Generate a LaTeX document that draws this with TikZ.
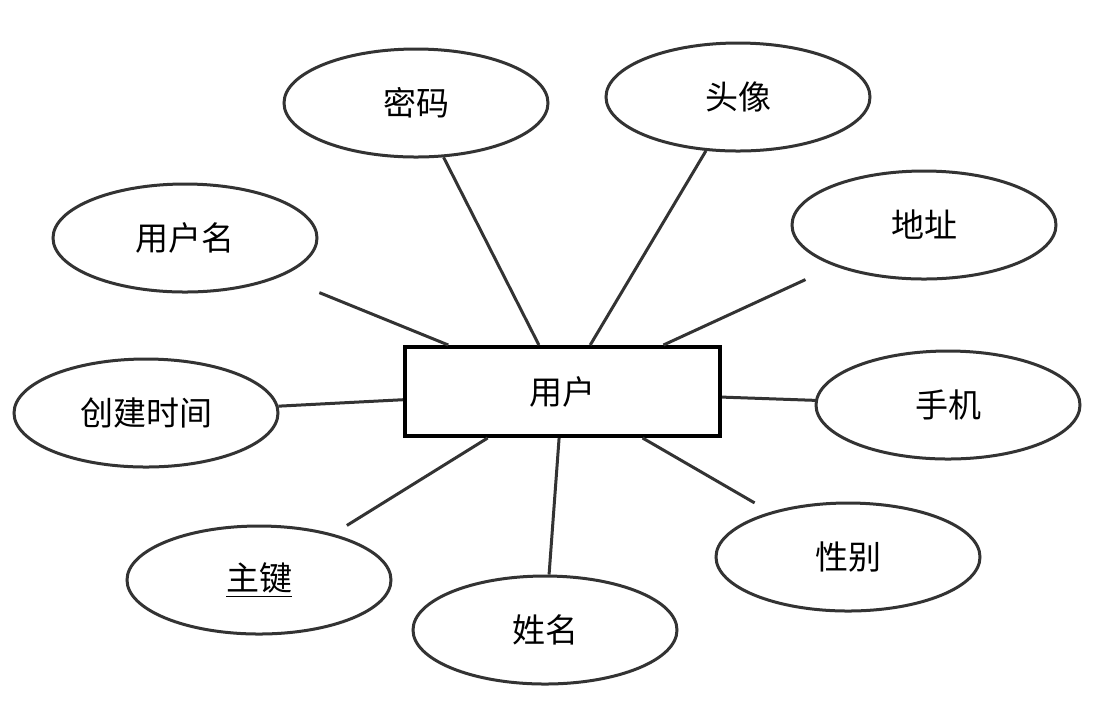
\documentclass[tikz,border=0pt]{standalone}
\usepackage{fontspec}
\setmainfont{Noto Sans CJK SC}
\usepackage{tikz}
\usetikzlibrary{shapes.geometric}

\definecolor{linegray}{HTML}{333333}
\tikzset{
  attr/.style={ellipse,draw=linegray,line width=1.5pt,minimum width=132pt,minimum height=54pt,inner sep=0pt},
  entity/.style={rectangle,draw=black,line width=2pt,minimum width=157.5pt,minimum height=44.5pt,inner sep=0pt},
  link/.style={draw=linegray,line width=1.5pt}
}

\begin{document}
\begin{tikzpicture}[x=0.5pt,y=-0.5pt,font=\fontsize{16.5}{20}\selectfont]
      \useasboundingbox (0,0) rectangle (1097,720);
      \node[entity] (user) at (562.5,391.5) {用户};
      \foreach \pos/\name/\label in {{(416,103)/mima/密码}, {(738,97)/touxiang/头像}, {(185,238)/yonghuming/用户名}, {(924,225)/dizhi/地址}, {(146,413)/chuangjian/创建时间}, {(948,405)/shouji/手机}, {(259,580)/zhujian/\underline{主键}}, {(545,630)/xingming/姓名}, {(848,557)/xingbie/性别}}
      \node[attr] (\name) at \pos {\label};
      \foreach \dest/\gap in {mima/0pt, touxiang/0pt, yonghuming/21pt, dizhi/16pt, chuangjian/0pt, shouji/0pt, zhujian/8pt, xingming/0pt, xingbie/9pt}
      \path[link,shorten <=\gap] (\dest) -- (user);
    \end{tikzpicture}
\end{document}
